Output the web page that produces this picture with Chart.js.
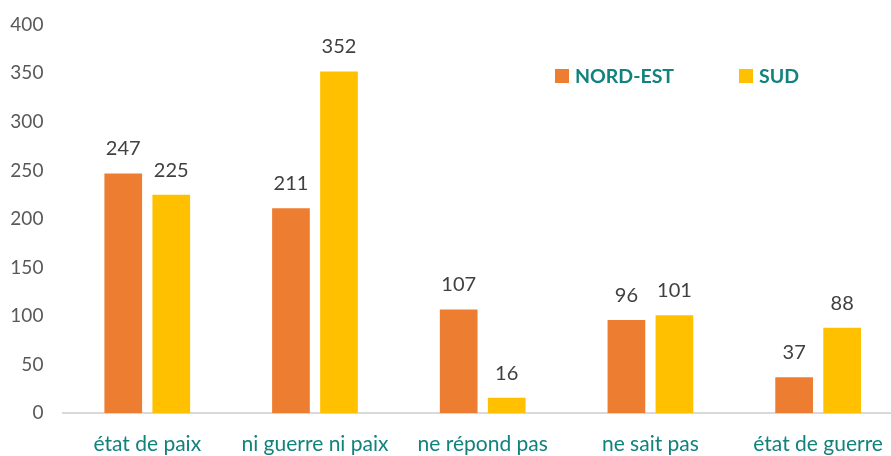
<!DOCTYPE html>
<html>
<head>
<meta charset="utf-8">
<script src="https://cdn.jsdelivr.net/npm/chart.js@4/dist/chart.umd.min.js"></script>
<style>
html,body{margin:0;padding:0;overflow:hidden;background:#fff;}
#wrap{width:902px;height:456px;position:relative;}
</style>
</head>
<body>
<div id="wrap"><canvas id="c"></canvas></div>
<script>
const categories = ["état de paix", "ni guerre ni paix", "ne répond pas", "ne sait pas", "état de guerre"];
const nordEst = [247, 211, 107, 96, 37];
const sud = [225, 352, 16, 101, 88];
const seriesNames = ["NORD-EST", "SUD"];
const yTicks = [0, 50, 100, 150, 200, 250, 300, 350, 400];

const FONT = "Lato, 'Open Sans', sans-serif";
const TEAL = "#11827C";

const valueLabels = {
  id: 'valueLabels',
  afterDatasetsDraw(chart) {
    const ctx = chart.ctx;
    ctx.save();
    ctx.font = "20px " + FONT;
    ctx.fillStyle = "#404040";
    ctx.textAlign = "center";
    ctx.textBaseline = "alphabetic";
    chart.data.datasets.forEach((ds, i) => {
      const meta = chart.getDatasetMeta(i);
      meta.data.forEach((bar, j) => {
        ctx.fillText(String(ds.data[j]), bar.x, bar.y - 18);
      });
    });
    ctx.restore();
  }
};

const customLegend = {
  id: 'customLegend',
  afterDraw(chart) {
    const ctx = chart.ctx;
    const items = [{x: 555}, {x: 739}];
    ctx.save();
    ctx.font = "bold 19.5px " + FONT;
    ctx.textBaseline = "middle";
    ctx.textAlign = "left";
    chart.data.datasets.forEach((ds, i) => {
      const x = items[i].x;
      ctx.fillStyle = ds.backgroundColor;
      ctx.fillRect(x, 69, 14, 14);
      ctx.fillStyle = TEAL;
      ctx.fillText(ds.label, x + 20, 76.5);
    });
    ctx.restore();
  }
};

new Chart(document.getElementById('c'), {
  type: 'bar',
  data: {
    labels: categories,
    datasets: [
      {label: seriesNames[0], data: nordEst, backgroundColor: "#ED7D31"},
      {label: seriesNames[1], data: sud, backgroundColor: "#FFC000"}
    ]
  },
  options: {
    responsive: true,
    maintainAspectRatio: false,
    animation: false,
    categoryPercentage: 0.5726,
    barPercentage: 0.785,
    layout: {padding: {top: 24.8, left: 0, right: 0, bottom: 0}},
    plugins: {legend: {display: false}, tooltip: {enabled: false}},
    scales: {
      x: {
        grid: {display: false},
        border: {display: true, color: "#D9D9D9", width: 2},
        ticks: {color: TEAL, font: {family: FONT, size: 21}, padding: 10, maxRotation: 0, autoSkip: false},
        afterFit(s) { s.height = 42.7; }
      },
      y: {
        min: 0, max: 400,
        afterBuildTicks(s) { s.ticks = yTicks.map(v => ({value: v})); },
        grid: {display: false},
        border: {display: false},
        ticks: {color: "#595959", font: {family: FONT, size: 19}, padding: 12},
        afterFit(s) { s.width = 63.4; }
      }
    }
  },
  plugins: [valueLabels, customLegend]
});
</script>
</body>
</html>
